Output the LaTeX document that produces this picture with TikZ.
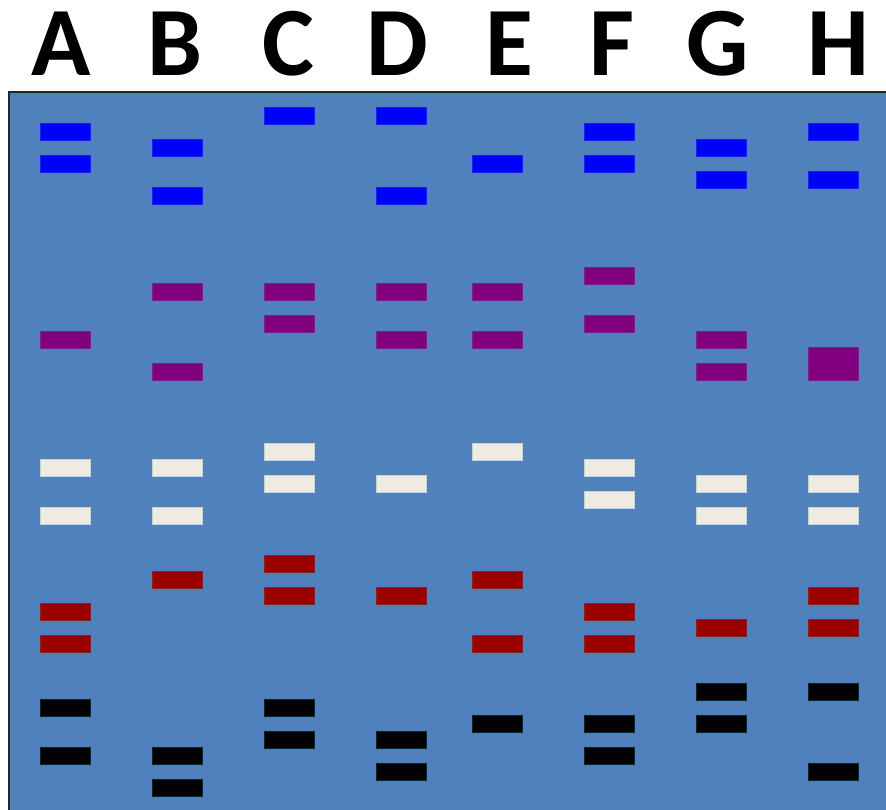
\documentclass[tikz,border=0pt]{standalone}
\usepackage{fontspec}
\setmainfont{Carlito}
\definecolor{gel}{HTML}{4F81BD}
\definecolor{bblue}{HTML}{0000FF}
\definecolor{bpurple}{HTML}{800080}
\definecolor{bwhite}{HTML}{EEECE1}
\definecolor{bred}{HTML}{990000}
\definecolor{bblack}{HTML}{000000}
\begin{document}
\begin{tikzpicture}[x=1pt,y=-1pt,
  lanelabel/.style={font=\fontsize{98}{98}\selectfont\bfseries, anchor=base, inner sep=0pt},
  band/.style={fill=#1, draw=#1!75!gel, line width=0.7pt}]
\useasboundingbox (0,0) rectangle (886,809);
\fill[white] (0,0) rectangle (886,809);
\fill[gel] (9,92) rectangle (890,812);
\draw[line width=1.6pt, black!85] (9,812) -- (9,92) -- (890,92);
% labels
\foreach \l/\x in {A/61,B/175,C/288,D/397,E/509,F/612,G/718,H/838}
  \node[lanelabel] (lab\l) at (\x,75) {\l};
% bands: lane left x, list of k
\newcommand{\bands}[3]{%
  \foreach \k in {#3} {\draw[band=#1] (#2,107+16*\k) rectangle ++(50,17.5);}}
% blue
\bands{bblue}{40}{1,3}
\bands{bblue}{152}{2,5}
\bands{bblue}{264}{0}
\bands{bblue}{376}{0,5}
\bands{bblue}{472}{3}
\bands{bblue}{584}{1,3}
\bands{bblue}{696}{2,4}
\bands{bblue}{808}{1,4}
% purple
\bands{bpurple}{40}{14}
\bands{bpurple}{152}{11,16}
\bands{bpurple}{264}{11,13}
\bands{bpurple}{376}{11,14}
\bands{bpurple}{472}{11,14}
\bands{bpurple}{584}{10,13}
\bands{bpurple}{696}{14,16}
\draw[band=bpurple] (808,347) rectangle ++(50,33.5);
% white
\bands{bwhite}{40}{22,25}
\bands{bwhite}{152}{22,25}
\bands{bwhite}{264}{21,23}
\bands{bwhite}{376}{23}
\bands{bwhite}{472}{21}
\bands{bwhite}{584}{22,24}
\bands{bwhite}{696}{23,25}
\bands{bwhite}{808}{23,25}
% red
\bands{bred}{40}{31,33}
\bands{bred}{152}{29}
\bands{bred}{264}{28,30}
\bands{bred}{376}{30}
\bands{bred}{472}{29,33}
\bands{bred}{584}{31,33}
\bands{bred}{696}{32}
\bands{bred}{808}{30,32}
% black
\bands{bblack}{40}{37,40}
\bands{bblack}{152}{40,42}
\bands{bblack}{264}{37,39}
\bands{bblack}{376}{39,41}
\bands{bblack}{472}{38}
\bands{bblack}{584}{38,40}
\bands{bblack}{696}{36,38}
\bands{bblack}{808}{36,41}
\end{tikzpicture}
\end{document}
